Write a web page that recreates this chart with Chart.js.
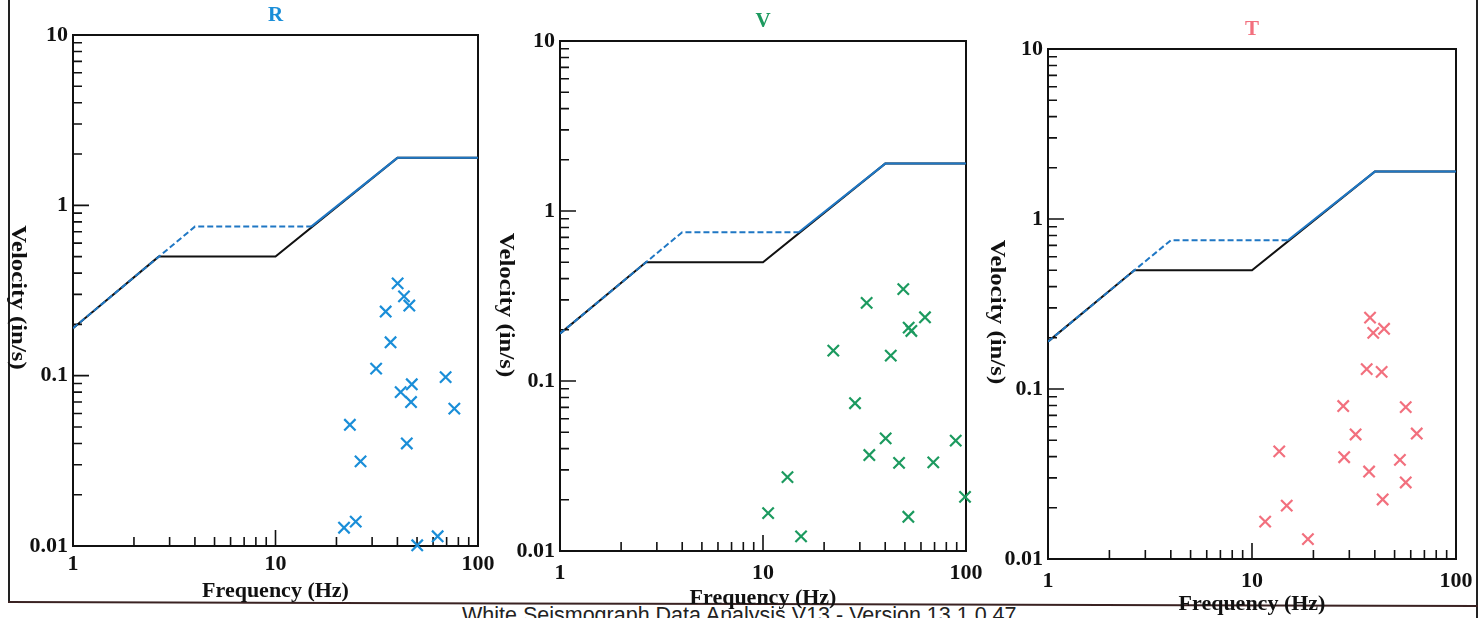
<!DOCTYPE html>
<html><head><meta charset="utf-8">
<script src="https://cdn.jsdelivr.net/npm/chart.js@4.4.1/dist/chart.umd.min.js"></script>
<style>
html,body{margin:0;padding:0;background:#fff;width:1484px;height:618px;overflow:hidden;position:relative;}
canvas{position:absolute;top:0;}
#frameL{position:absolute;left:8px;top:0;width:2px;height:603px;background:#222;}
#frameR{position:absolute;left:1476px;top:0;width:2px;height:618px;background:#222;}
#frameB{position:absolute;left:8px;top:601px;width:1470px;height:2px;background:#3a2222;transform-origin:0 0;transform:rotate(0.16deg);}
#footer{position:absolute;left:462px;top:605px;font:21.5px/21px "Liberation Sans",Arial,sans-serif;color:#222;white-space:nowrap;}
</style></head>
<body>
<div id="frameL"></div><div id="frameR"></div><div id="frameB"></div>
<div id="footer">White Seismograph Data Analysis V13 - Version 13.1.0.47</div>
<canvas id="cR" width="495" height="618" style="left:0px"></canvas>
<canvas id="cV" width="500" height="618" style="left:485px"></canvas>
<canvas id="cT" width="505" height="618" style="left:975px"></canvas>
<script>
// ---- data ----
const xTickValues = [1, 10, 100];
const yTickValues = [0.01, 0.1, 1, 10];
const limitFreq = [1, 2.65, 10, 40, 100];
const limitVel  = [0.19, 0.5, 0.5, 1.9, 1.9];
const altFreq = [1, 4, 15, 40, 100];
const altVel  = [0.19, 0.75, 0.75, 1.9, 1.9];

const rFreq = [40.1, 43.1, 45.8, 35.0, 37.0, 31.4, 69.2, 47.1, 41.5, 46.7, 76.4, 23.3, 44.5, 26.3, 24.9, 21.8, 63.2, 50.1];
const rVel  = [0.348, 0.292, 0.258, 0.238, 0.157, 0.110, 0.098, 0.089, 0.080, 0.070, 0.064, 0.0515, 0.040, 0.0314, 0.0139, 0.0128, 0.0114, 0.0101];

const vFreq = [49.1, 32.4, 62.8, 52.2, 53.8, 22.2, 42.6, 28.4, 40.2, 89.0, 33.4, 46.8, 69.0, 13.2, 98.9, 10.6, 52.0, 15.4];
const vVel  = [0.347, 0.288, 0.237, 0.206, 0.197, 0.151, 0.141, 0.074, 0.046, 0.0446, 0.0367, 0.033, 0.0332, 0.0272, 0.0208, 0.0167, 0.0159, 0.0122];

const tFreq = [37.9, 39.3, 44.4, 36.5, 43.2, 28.0, 56.7, 32.2, 64.2, 13.6, 28.3, 53.1, 37.5, 56.7, 14.8, 43.7, 11.6, 18.8];
const tVel  = [0.263, 0.214, 0.226, 0.131, 0.126, 0.0794, 0.0783, 0.054, 0.0547, 0.043, 0.0397, 0.0383, 0.0327, 0.0282, 0.0206, 0.0224, 0.0166, 0.0131];

const panelTitles = ['R', 'V', 'T'];
const xTitle = 'Frequency (Hz)';
const yTitle = 'Velocity (in/s)';

// ---- layout / style ----
const panels = [
  {id:'cR', title:panelTitles[0], color:'#1a8ed8', freq:rFreq, vel:rVel, yW:73, padR:17, top:35, bottom:546, xTickPad:5, xTitlePad:13, yTitleX:17, yTitleDY:7},
  {id:'cV', title:panelTitles[1], color:'#1c9a5f', freq:vFreq, vel:vVel, yW:75, padR:19, top:41, bottom:551, xTickPad:9, xTitlePad:6, yTitleX:20, yTitleDY:9},
  {id:'cT', title:panelTitles[2], color:'#f2707e', freq:tFreq, vel:tVel, yW:73, padR:24, top:49, bottom:559, xTickPad:9, xTitlePad:0, yTitleX:21, yTitleDY:8}
];
const serif = '"Liberation Serif","Times New Roman",serif';

function pts(xs, ys){ return xs.map((x,i)=>({x:x, y:ys[i]})); }

const framePlugin = {
  id:'frame',
  beforeDatasetsDraw(chart){
    const {ctx, chartArea:a, scales:{x, y}} = chart;
    ctx.save();
    ctx.strokeStyle = '#111';
    ctx.lineWidth = 2;
    ctx.strokeRect(a.left, a.top, a.right - a.left, a.bottom - a.top);
    ctx.lineWidth = 1.6;
    ctx.beginPath();
    for (let k = -2; k <= 1; k++) {
      for (let m = 1; m <= 9; m++) {
        const v = m * Math.pow(10, k);
        if (v < 0.01 || v > 10) continue;
        const py = y.getPixelForValue(v);
        const len = m === 1 ? 16 : 9;
        ctx.moveTo(a.left, py); ctx.lineTo(a.left + len, py);
      }
    }
    for (let k = 0; k <= 2; k++) {
      for (let m = 1; m <= 9; m++) {
        const v = m * Math.pow(10, k);
        if (v < 1 || v > 100) continue;
        const px = x.getPixelForValue(v);
        const len = m === 1 ? 16 : 9;
        ctx.moveTo(px, a.bottom); ctx.lineTo(px, a.bottom - len);
      }
    }
    ctx.stroke();
    ctx.restore();
  },
  afterDraw(chart){
    const {ctx, chartArea:a} = chart;
    const p = chart.options.plugins.frame;
    ctx.save();
    ctx.fillStyle = p.color;
    ctx.font = 'bold 21px ' + serif;
    ctx.textAlign = 'center';
    ctx.textBaseline = 'middle';
    ctx.fillText(p.title, (a.left + a.right) / 2, a.top - 19);
    ctx.fillStyle = '#111';
    ctx.font = 'bold 21px ' + serif;
    ctx.translate(p.yTitleX, (a.top + a.bottom) / 2 + p.yTitleDY);
    ctx.rotate(Math.PI / 2);
    ctx.scale(1.18, 1);
    ctx.fillText(yTitle, 0, 0);
    ctx.restore();
  }
};

panels.forEach(p => {
  const canvas = document.getElementById(p.id);
  const H = 618 - p.bottom;
  new Chart(canvas, {
    type: 'scatter',
    data: {
      datasets: [
        {data: pts(p.freq, p.vel), pointStyle:'crossRot', pointRadius:8, pointBorderWidth:2.2,
         borderColor:p.color, backgroundColor:p.color, clip:false},
        {type:'line', data: pts(altFreq, altVel), borderColor:'#1f77c4', borderWidth:2, pointRadius:0, fill:false, tension:0,
         segment:{borderDash: c => (c.p1DataIndex <= 2 ? [6, 3] : undefined)}},
        {type:'line', data: pts(limitFreq, limitVel), borderColor:'#111', borderWidth:2, pointRadius:0, fill:false, tension:0}
      ]
    },
    options: {
      responsive:false, animation:false, events:[],
      layout:{autoPadding:false, padding:{left:0, right:p.padR, top:p.top, bottom:0}},
      plugins:{legend:{display:false}, tooltip:{enabled:false}, title:{display:false},
               frame:{title:p.title, color:p.color, yTitleX:p.yTitleX, yTitleDY:p.yTitleDY}},
      scales:{
        x:{type:'logarithmic', position:'bottom', min:1, max:100,
           grid:{display:false, drawTicks:false}, border:{display:false},
           afterBuildTicks: s => { s.ticks = xTickValues.map(v => ({value:v})); },
           afterFit: s => { s.height = H; s.paddingLeft = 0; s.paddingRight = 0; },
           ticks:{font:{family:serif, size:22, weight:'bold'}, color:'#111', padding:p.xTickPad, maxRotation:0, minRotation:0, autoSkip:false,
                  callback: v => String(v)},
           title:{display:true, text:xTitle, color:'#111', font:{family:serif, size:22, weight:'bold'}, padding:{top:0, bottom:p.xTitlePad}}},
        y:{type:'logarithmic', position:'left', min:0.01, max:10,
           grid:{display:false, drawTicks:false}, border:{display:false},
           afterBuildTicks: s => { s.ticks = yTickValues.map(v => ({value:v})); },
           afterFit: s => { s.width = p.yW; s.paddingTop = 0; s.paddingBottom = 0; },
           ticks:{font:{family:serif, size:22, weight:'bold'}, color:'#111', padding:5, autoSkip:false,
                  callback: v => String(v)},
           title:{display:false}}
      }
    },
    plugins:[framePlugin]
  });
});
</script>
</body></html>
